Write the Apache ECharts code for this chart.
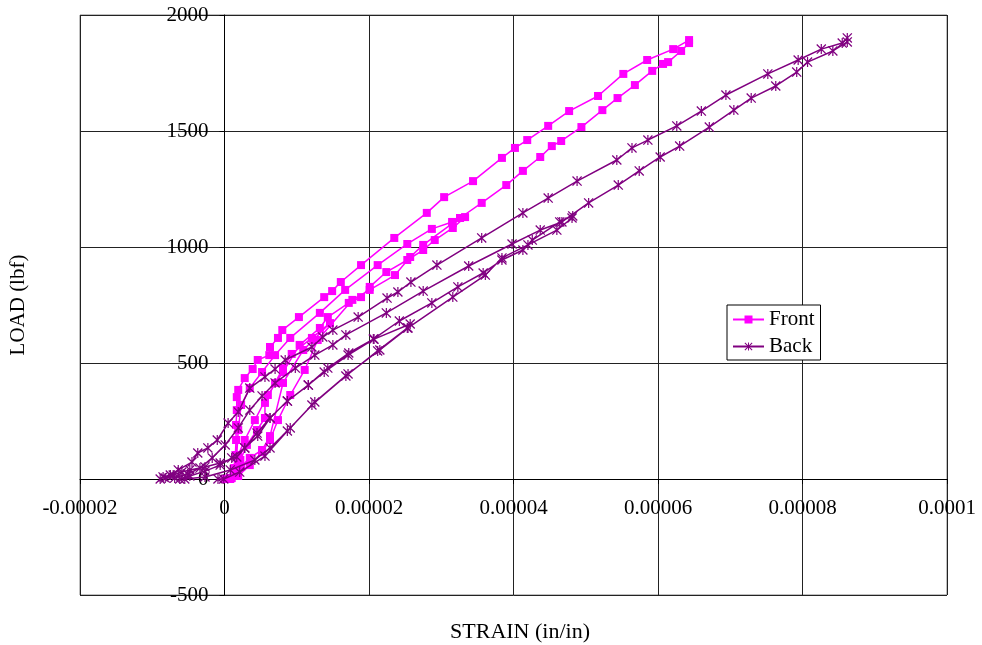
<!DOCTYPE html>
<html>
<head>
<meta charset="utf-8">
<script src="https://cdn.jsdelivr.net/npm/echarts@6/dist/echarts.min.js"></script>
<style>
  html, body { margin: 0; padding: 0; background: #fff; }
  #chart { width: 982px; height: 645px; }
</style>
</head>
<body>
<div id="chart"></div>
<script>
// Strain gauge readings over three load/unload cycles (strain in microstrain, load in lbf)
const frontStrainMicro = [
  0.0, 1.0, 2.3, 3.5, 5.2, 6.3, 8.1, 10.9, 12.3, 14.6,
  12.1, 9.3, 8.1, 7.0, 5.6, 5.6, 4.5, 3.1, 2.2, 1.6, 0.8,
  1.6, 1.9, 2.8, 4.2, 6.0, 8.1, 10.4, 13.2, 14.3, 17.2, 18.9, 20.1, 22.4, 25.3, 27.5, 29.1, 31.6, 33.3,
  32.6, 31.5, 28.7, 25.3, 21.2, 16.7, 13.2, 9.1, 7.0, 5.2, 3.5, 2.3, 1.9, 1.7, 1.3, 0.5,
  1.9, 3.5, 5.2, 6.3, 7.4, 9.1, 11.1, 12.9, 17.7, 20.1, 23.6, 25.7, 27.5, 31.6, 32.6, 35.6, 39.0, 41.3,
  43.7, 45.3, 46.6, 49.4, 52.3, 54.4, 56.8, 59.2, 60.7, 61.4, 63.2, 64.3,
  64.3, 62.1, 58.5, 55.2, 51.7, 47.7, 44.8, 41.9, 40.2, 38.4, 34.4, 30.4, 28.0, 23.5, 18.9, 16.1, 14.9,
  13.8, 10.3, 8.0, 7.4, 6.3, 6.2, 4.6, 3.9, 2.8, 1.9, 1.7, 1.7, 1.6, 1.6, 1.5, 1.3, 0.8, 0.1
];
const frontLoad = [
  0, 4, 52, 91, 125, 185, 414, 556, 599, 672,
  608, 539, 478, 414, 328, 263, 211, 147, 82, 30, 0,
  47, 103, 168, 254, 362, 461, 578, 651, 698, 759, 784, 828, 892, 944, 987, 1030, 1082, 1129,
  1125, 1108, 1078, 1013, 922, 815, 716, 608, 534, 461, 392, 319, 211, 103, 30, 0,
  13, 60, 116, 168, 254, 362, 470, 599, 772, 815, 879, 957, 1009, 1103, 1125, 1190, 1267, 1328,
  1388, 1435, 1457, 1517, 1590, 1642, 1698, 1759, 1789, 1797, 1845, 1879,
  1892, 1853, 1806, 1746, 1651, 1586, 1522, 1461, 1427, 1384, 1284, 1215, 1147, 1039, 922, 849, 810,
  784, 698, 642, 608, 569, 534, 513, 474, 435, 384, 353, 297, 233, 168, 103, 47, 4, 0
];
const backStrainMicro = [
  -0.9, -0.1, 2.1, 5.6, 8.7, 12.1, 16.8, 21.2, 25.3,
  25.7, 20.7, 17.1, 13.8, 11.6, 8.7, 6.3, 4.6, 2.8, 1.0, -0.6, -2.7, -4.8, -6.2,
  -5.5, -2.7, 0.8, 4.2, 6.3, 9.1, 12.5, 17.1, 21.5, 25.4, 31.6, 36.1, 38.4, 42.0, 46.0, 48.1,
  48.2, 46.4, 42.6, 41.3, 38.4, 35.8, 32.3, 28.7, 24.2, 20.6, 17.2, 14.3, 11.6, 8.7, 6.3, 4.5,
  2.8, 1.7, -0.6, -2.7, -4.8, -5.9, -7.1, -8.2,
  -6.9, -5.1, -3.4, -1.7, 0.1, 1.9, 3.5, 5.2, 7.0, 9.8, 12.5, 15.0, 16.8, 22.4, 27.5, 33.8, 39.8,
  43.7, 46.7, 50.4, 54.5, 57.4, 60.3, 63.0, 67.1, 70.5, 72.9, 76.3, 79.2, 80.7, 84.2, 86.2,
  86.2, 85.5, 82.6, 79.4, 75.2, 69.4, 66.0, 62.6, 58.6, 56.4, 54.3, 48.8, 44.8, 41.3, 35.6, 29.4,
  25.8, 24.0, 22.5, 18.5, 15.0, 13.6, 12.1, 8.4, 7.0, 5.6, 3.5, 1.9, 0.5, -1.0, -2.3, -3.7, -4.5,
  -6.4, -7.5, -8.5, -8.9
];
const backLoad = [
  0, 0, 30, 99, 207, 319, 444, 552, 651,
  668, 603, 534, 461, 405, 336, 263, 185, 134, 91, 60, 34, 13, 0,
  0, 9, 39, 82, 134, 220, 332, 453, 556, 651, 784, 879, 953, 1009, 1073, 1125,
  1134, 1108, 1030, 987, 944, 888, 828, 759, 681, 603, 543, 478, 405, 336, 263, 198,
  134, 95, 69, 52, 39, 30, 17, 4,
  4, 22, 47, 91, 147, 220, 297, 358, 414, 478, 534, 578, 621, 716, 810, 918, 1013,
  1073, 1108, 1190, 1267, 1328, 1388, 1435, 1517, 1590, 1642, 1694, 1754, 1797, 1845, 1884,
  1901, 1879, 1853, 1806, 1746, 1655, 1586, 1522, 1461, 1427, 1375, 1284, 1211, 1147, 1039, 922,
  849, 806, 780, 698, 642, 612, 569, 513, 474, 440, 392, 289, 241, 168, 134, 112, 73,
  39, 17, 9, 0
];

const xTickLabels = ['-0.00002', '0', '0.00002', '0.00004', '0.00006', '0.00008', '0.0001'];
const yTickLabels = ['-500', '0', '500', '1000', '1500', '2000'];
const seriesNames = ['Front', 'Back'];

const X_MIN = -0.00002, X_MAX = 0.0001, X_STEP = 0.00002;
const Y_MIN = -500, Y_MAX = 2000, Y_STEP = 500;

// plot rectangle in pixels
const GRID = { left: 80, right: 35, top: 15, bottom: 50 };
const PLOT_W = 982 - GRID.left - GRID.right;
const PLOT_H = 645 - GRID.top - GRID.bottom;
// shift each axis line so the two cross at the origin
const xAxisShift = PLOT_H * (0 - Y_MIN) / (Y_MAX - Y_MIN);
const yAxisShift = PLOT_W * (0 - X_MIN) / (X_MAX - X_MIN);

function pairs(strainMicro, load) {
  return strainMicro.map((s, i) => [s * 1e-6, load[i]]);
}

// asterisk marker: vertical bar plus two diagonals
const asterisk = 'path://M4.4,0L5.6,0L5.6,10L4.4,10Z M0,0.9L0.9,0L10,9.1L9.1,10Z M9.1,0L10,0.9L0.9,10L0,9.1Z';

const serif = '"Liberation Serif", "DejaVu Serif", serif';

const chart = echarts.init(document.getElementById('chart'));
chart.setOption({
  animation: false,
  backgroundColor: '#ffffff',
  textStyle: { fontFamily: serif, color: '#000' },
  grid: { left: GRID.left, right: GRID.right, top: GRID.top, bottom: GRID.bottom,
          show: true, borderColor: '#808080', borderWidth: 1 },
  legend: {
    orient: 'vertical',
    left: 727, top: 305,
    padding: [4, 6, 3, 5],
    itemWidth: 31, itemHeight: 10, itemGap: 6,
    borderColor: '#000', borderWidth: 1, backgroundColor: '#fff',
    textStyle: { fontFamily: serif, fontSize: 21, color: '#000' },
    data: seriesNames
  },
  xAxis: {
    type: 'value',
    min: X_MIN, max: X_MAX, interval: X_STEP,
    position: 'bottom',
    offset: -xAxisShift,
    axisLine: { onZero: false, lineStyle: { color: '#000', width: 1 } },
    axisTick: { show: true, inside: false, length: 5, lineStyle: { color: '#000' } },
    axisLabel: {
      fontFamily: serif, fontSize: 21, color: '#000', margin: 19,
      formatter: v => xTickLabels[Math.round((v - X_MIN) / X_STEP)]
    },
    splitLine: { show: true, lineStyle: { color: '#222', width: 1 } }
  },
  yAxis: {
    type: 'value',
    min: Y_MIN, max: Y_MAX, interval: Y_STEP,
    position: 'left',
    offset: -yAxisShift,
    axisLine: { onZero: false, lineStyle: { color: '#000', width: 1 } },
    axisTick: { show: true, inside: false, length: 5, lineStyle: { color: '#000' } },
    axisLabel: {
      fontFamily: serif, fontSize: 21, color: '#000', margin: 16,
      formatter: v => yTickLabels[Math.round((v - Y_MIN) / Y_STEP)]
    },
    splitLine: { show: true, lineStyle: { color: '#222', width: 1 } }
  },
  graphic: [
    {
      type: 'text', x: 520, y: 632,
      style: { text: 'STRAIN (in/in)', font: '22px ' + serif, fill: '#000',
               textAlign: 'center', textVerticalAlign: 'middle' }
    },
    {
      type: 'text', x: 18, y: 305, rotation: Math.PI / 2,
      style: { text: 'LOAD (lbf)', font: '21px ' + serif, fill: '#000',
               textAlign: 'center', textVerticalAlign: 'middle' }
    }
  ],
  series: [
    {
      name: seriesNames[0], type: 'line',
      data: pairs(frontStrainMicro, frontLoad),
      symbol: 'rect', symbolSize: 8,
      itemStyle: { color: '#ff00ff' },
      lineStyle: { color: '#ff00ff', width: 1.5 },
      z: 2
    },
    {
      name: seriesNames[1], type: 'line',
      data: pairs(backStrainMicro, backLoad),
      symbol: asterisk, symbolSize: 10,
      itemStyle: { color: '#800080' },
      lineStyle: { color: '#800080', width: 1.5 },
      z: 3
    }
  ]
});
</script>
</body>
</html>
